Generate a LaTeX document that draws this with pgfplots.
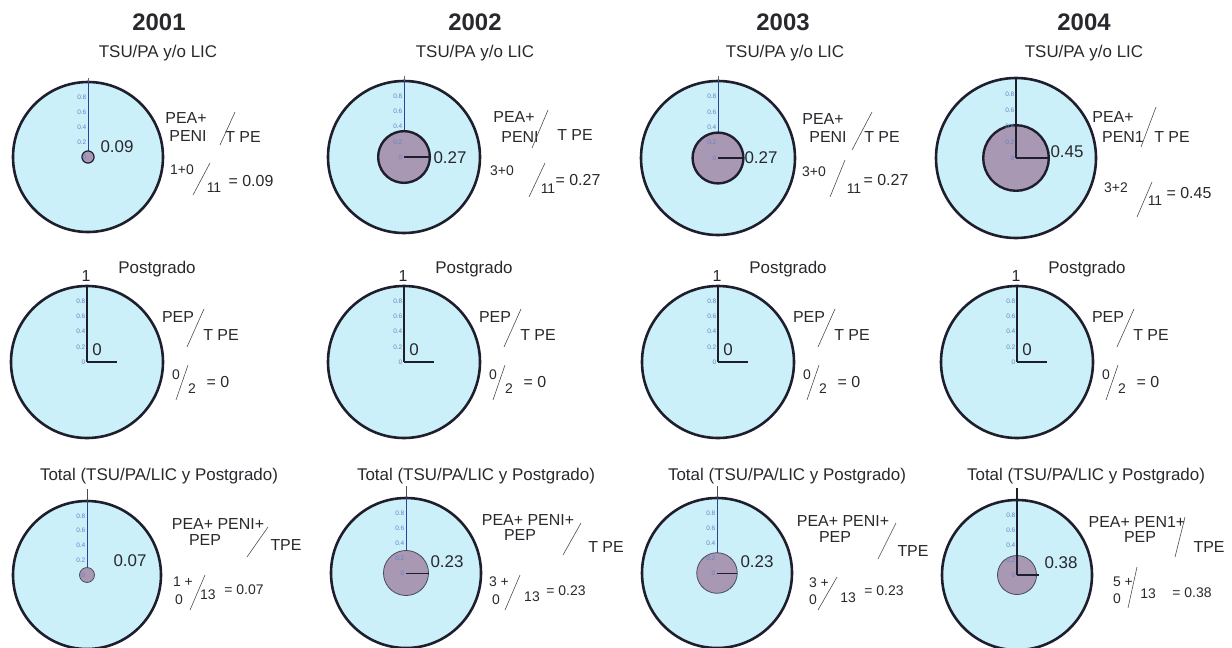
\documentclass[border=0pt]{standalone}
\usepackage{fontspec}
\setmainfont{Liberation Sans}
\usepackage{pgfplots}
\pgfplotsset{compat=1.18}
\usepgfplotslibrary{polar}

\definecolor{lightc}{RGB}{204,240,250}
\definecolor{mauve}{RGB}{168,152,180}
\definecolor{ringc}{RGB}{30,30,45}
\definecolor{tickc}{RGB}{100,130,195}
\definecolor{bluel}{RGB}{40,70,150}
\definecolor{txt}{RGB}{40,40,45}

\newcommand{\yr}{\fontsize{24}{24}\selectfont\bfseries}
\newcommand{\sub}{\fontsize{17}{17}\selectfont}
\newcommand{\fm}{\fontsize{16}{16}\selectfont}
\newcommand{\fs}{\fontsize{14}{14}\selectfont}
\newcommand{\val}{\fontsize{17}{17}\selectfont}

% filled disk of constant radius #2
\newcommand{\disk}[2]{\addplot[#1] coordinates {(0,#2) (10,#2) (20,#2) (30,#2) (40,#2) (50,#2) (60,#2) (70,#2) (80,#2) (90,#2) (100,#2) (110,#2) (120,#2) (130,#2) (140,#2) (150,#2) (160,#2) (170,#2) (180,#2) (190,#2) (200,#2) (210,#2) (220,#2) (230,#2) (240,#2) (250,#2) (260,#2) (270,#2) (280,#2) (290,#2) (300,#2) (310,#2) (320,#2) (330,#2) (340,#2) (350,#2)} -- cycle;}

\tikzset{tk/.style={font=\fontsize{6.5}{6.5}\selectfont, text=tickc, anchor=east, inner sep=1.5pt}}
\newcommand{\ticks}{%
  \node[tk] at (axis cs:90,0) {0};
  \node[tk] at (axis cs:90,0.2) {0.2};
  \node[tk] at (axis cs:90,0.4) {0.4};
  \node[tk] at (axis cs:90,0.6) {0.6};
  \node[tk] at (axis cs:90,0.8) {0.8};}

\newcommand{\panel}[4]{%
\begin{polaraxis}[at={(#1bp,-#2bp)}, anchor=center,
  width=#3bp, height=#3bp, scale only axis,
  xmin=0, xmax=360, ymin=0, ymax=1,
  xtick=\empty, ytick=\empty,
  separate axis lines,
  x axis line style={line width=2.6pt, draw=ringc},
  y axis line style={draw=none},
  axis background/.style={fill=lightc},
  clip=false]
#4
\end{polaraxis}}

\tikzset{sl/.style={line width=0.6pt, draw=black!70}, t/.style={font=\fm, text=txt, inner sep=0pt}}

\begin{document}
\begin{tikzpicture}
\useasboundingbox (0,0) rectangle (1232bp,-648bp);

% ---------- row 1: TSU/PA y/o LIC ----------
\panel{88}{157}{150}{
  \addplot[thin, bluel] coordinates {(90,0) (90,1)};
  \addplot[thin, black!60] coordinates {(90,1) (90,1.06)};
  \disk{fill=mauve, draw=ringc, line width=1.2pt}{0.08}
  \ticks}
\panel{404}{157}{152}{
  \addplot[thin, bluel] coordinates {(90,0) (90,1)};
  \addplot[thin, black!60] coordinates {(90,1) (90,1.06)};
  \disk{fill=mauve, draw=ringc, line width=2.4pt}{0.34}
  \addplot[line width=2.4pt, ringc] coordinates {(0,0) (0,0.34)};
  \ticks}
\panel{718}{158}{154}{
  \addplot[thin, bluel] coordinates {(90,0) (90,1)};
  \addplot[thin, black!60] coordinates {(90,1) (90,1.06)};
  \disk{fill=mauve, draw=ringc, line width=2.4pt}{0.33}
  \addplot[line width=2.4pt, ringc] coordinates {(0,0) (0,0.33)};
  \ticks}
\panel{1016}{158}{160}{
  \disk{fill=mauve, draw=ringc, line width=2.4pt}{0.41}
  \addplot[line width=2.6pt, ringc] coordinates {(90,0) (90,1)};
  \addplot[line width=2.4pt, ringc] coordinates {(0,0) (0,0.41)};
  \ticks}

% ---------- row 2: Postgrado ----------
\panel{87}{362}{152}{
  \addplot[line width=2.6pt, ringc] coordinates {(90,0) (90,1)};
  \addplot[line width=2.6pt, ringc] coordinates {(0,0) (0,0.4)};
  \ticks}
\panel{404}{362}{152}{
  \addplot[line width=2.6pt, ringc] coordinates {(90,0) (90,1)};
  \addplot[line width=2.6pt, ringc] coordinates {(0,0) (0,0.4)};
  \ticks}
\panel{718}{362}{152}{
  \addplot[line width=2.6pt, ringc] coordinates {(90,0) (90,1)};
  \addplot[line width=2.6pt, ringc] coordinates {(0,0) (0,0.4)};
  \ticks}
\panel{1017}{362}{152}{
  \addplot[line width=2.6pt, ringc] coordinates {(90,0) (90,1)};
  \addplot[line width=2.6pt, ringc] coordinates {(0,0) (0,0.4)};
  \ticks}

% ---------- row 3: Total ----------
\panel{87}{575}{148}{
  \addplot[thin, bluel] coordinates {(90,0) (90,1)};
  \addplot[thin, black!70] coordinates {(90,1) (90,1.16)};
  \disk{fill=mauve, draw=ringc!80, line width=0.8pt}{0.1}
  \ticks}
\panel{406}{573}{150}{
  \addplot[thin, bluel] coordinates {(90,0) (90,1)};
  \addplot[thin, black!70] coordinates {(90,1) (90,1.16)};
  \disk{fill=mauve, draw=ringc!80, line width=0.8pt}{0.30}
  \addplot[thin, ringc] coordinates {(0,0) (0,0.30)};
  \ticks}
\panel{717}{573}{150}{
  \addplot[thin, bluel] coordinates {(90,0) (90,1)};
  \addplot[thin, black!70] coordinates {(90,1) (90,1.16)};
  \disk{fill=mauve, draw=ringc!80, line width=0.8pt}{0.27}
  \addplot[thin, ringc] coordinates {(0,0) (0,0.27)};
  \ticks}
\panel{1017}{575}{150}{
  \disk{fill=mauve, draw=ringc!80, line width=0.8pt}{0.26}
  \addplot[line width=2.4pt, ringc] coordinates {(90,0) (90,1.16)};
  \addplot[line width=2.4pt, ringc] coordinates {(0,0) (0,0.29)};
  \ticks}

% ---------- texts row 1 ----------
\begin{scope}[shift={(88bp,-157bp)}, x=1bp, y=-1bp]
  \node[t, font=\yr] at (71,-135) {2001};
  \node[t, font=\sub] at (70,-104) {TSU/PA y/o LIC};
  \node[t, font=\val] at (29,-10) {0.09};
  \node[t] at (98,-39) {PEA+}; \node[t] at (100,-21) {PENI}; \node[t] at (155,-20) {T PE};
  \draw[sl] (147,-45) -- (132,-12);
  \node[t, font=\fs] at (94,13) {1+0}; \draw[sl] (122,6) -- (105,38);
  \node[t, font=\fs] at (126,31) {11}; \node[t] at (163,24) {= 0.09};
\end{scope}
\begin{scope}[shift={(404bp,-157bp)}, x=1bp, y=-1bp]
  \node[t, font=\yr] at (71,-135) {2002};
  \node[t, font=\sub] at (71,-104) {TSU/PA y/o LIC};
  \node[t, font=\val] at (46,1) {0.27};
  \node[t] at (110,-40) {PEA+}; \node[t] at (116,-20) {PENI}; \node[t] at (171,-22) {T PE};
  \draw[sl] (144,-47) -- (128,-9);
  \node[t, font=\fs] at (98,14) {3+0}; \draw[sl] (141,6) -- (125,40);
  \node[t, font=\fs] at (144,32) {11}; \node[t] at (174,23) {= 0.27};
\end{scope}
\begin{scope}[shift={(718bp,-158bp)}, x=1bp, y=-1bp]
  \node[t, font=\yr] at (65,-136) {2003};
  \node[t, font=\sub] at (67,-105) {TSU/PA y/o LIC};
  \node[t, font=\val] at (43,0) {0.27};
  \node[t] at (105,-39) {PEA+}; \node[t] at (110,-21) {PENI}; \node[t] at (164,-21) {T PE};
  \draw[sl] (154,-46) -- (134,-8);
  \node[t, font=\fs] at (96,14) {3+0}; \draw[sl] (127,2) -- (112,39);
  \node[t, font=\fs] at (136,31) {11}; \node[t] at (168,22) {= 0.27};
\end{scope}
\begin{scope}[shift={(1016bp,-158bp)}, x=1bp, y=-1bp]
  \node[t, font=\yr] at (68,-136) {2004};
  \node[t, font=\sub] at (68,-105) {TSU/PA y/o LIC};
  \node[t, font=\val] at (51,-6) {0.45};
  \node[t] at (97,-41) {PEA+}; \node[t] at (107,-21) {PEN1}; \node[t] at (156,-21) {T PE};
  \draw[sl] (140,-51) -- (125,-11);
  \node[t, font=\fs] at (100,30) {3+2}; \draw[sl] (136,24) -- (121,59);
  \node[t, font=\fs] at (139,43) {11}; \node[t] at (173,35) {= 0.45};
\end{scope}

% ---------- texts row 2 ----------
\foreach \px in {87,404,718,1017} {
\begin{scope}[shift={(\px bp,-362bp)}, x=1bp, y=-1bp]
  \node[t, font=\fm] at (-1,-86) {1};
  \node[t, font=\sub] at (70,-93) {Postgrado};
  \node[t, font=\val] at (10,-12) {0};
  \node[t] at (91,-45) {PEP}; \node[t] at (134,-27) {T PE};
  \draw[sl] (117,-53) -- (100,-15);
  \node[t, font=\fs] at (89,13) {0}; \draw[sl] (101,3) -- (89,38);
  \node[t, font=\fs] at (105,27) {2}; \node[t] at (131,20) {= 0};
\end{scope}}

% ---------- texts row 3 ----------
\begin{scope}[shift={(87bp,-575bp)}, x=1bp, y=-1bp]
  \node[t, font=\sub] at (72,-99) {Total (TSU/PA/LIC y Postgrado)};
  \node[t, font=\val] at (43,-14) {0.07};
  \node[t] at (131,-51) {PEA+ PENI+}; \node[t] at (118,-35) {PEP}; \node[t] at (199,-30) {TPE};
  \draw[sl] (181,-48) -- (160,-18);
  \node[t, font=\fs] at (96,7) {1 +}; \node[t, font=\fs] at (92,25) {0};
  \draw[sl] (118,0) -- (103,35);
  \node[t, font=\fs] at (121,20) {13}; \node[t, font=\fs] at (157,15) {= 0.07};
\end{scope}
\begin{scope}[shift={(406bp,-573bp)}, x=1bp, y=-1bp]
  \node[t, font=\sub] at (70,-97) {Total (TSU/PA/LIC y Postgrado)};
  \node[t, font=\val] at (41,-11) {0.23};
  \node[t] at (122,-53) {PEA+ PENI+}; \node[t] at (114,-38) {PEP}; \node[t] at (200,-26) {T PE};
  \draw[sl] (175,-50) -- (157,-18);
  \node[t, font=\fs] at (93,9) {3 +}; \node[t, font=\fs] at (90,27) {0};
  \draw[sl] (114,2) -- (99,37);
  \node[t, font=\fs] at (126,24) {13}; \node[t, font=\fs] at (160,18) {= 0.23};
\end{scope}
\begin{scope}[shift={(717bp,-573bp)}, x=1bp, y=-1bp]
  \node[t, font=\sub] at (70,-97) {Total (TSU/PA/LIC y Postgrado)};
  \node[t, font=\val] at (40,-11) {0.23};
  \node[t] at (126,-52) {PEA+ PENI+}; \node[t] at (118,-36) {PEP}; \node[t] at (196,-22) {TPE};
  \draw[sl] (179,-50) -- (161,-14);
  \node[t, font=\fs] at (102,10) {3 +}; \node[t, font=\fs] at (96,27) {0};
  \draw[sl] (120,4) -- (101,37);
  \node[t, font=\fs] at (131,25) {13}; \node[t, font=\fs] at (167,18) {= 0.23};
\end{scope}
\begin{scope}[shift={(1017bp,-575bp)}, x=1bp, y=-1bp]
  \node[t, font=\sub] at (69,-99) {Total (TSU/PA/LIC y Postgrado)};
  \node[t, font=\val] at (44,-12) {0.38};
  \node[t] at (120,-53) {PEA+ PEN1+}; \node[t] at (123,-38) {PEP}; \node[t] at (192,-28) {TPE};
  \draw[sl] (168,-58) -- (158,-18);
  \node[t, font=\fs] at (106,7) {5 +}; \node[t, font=\fs] at (100,24) {0};
  \draw[sl] (120,-8) -- (111,33);
  \node[t, font=\fs] at (131,19) {13}; \node[t, font=\fs] at (175,18) {= 0.38};
\end{scope}
\end{tikzpicture}
\end{document}
